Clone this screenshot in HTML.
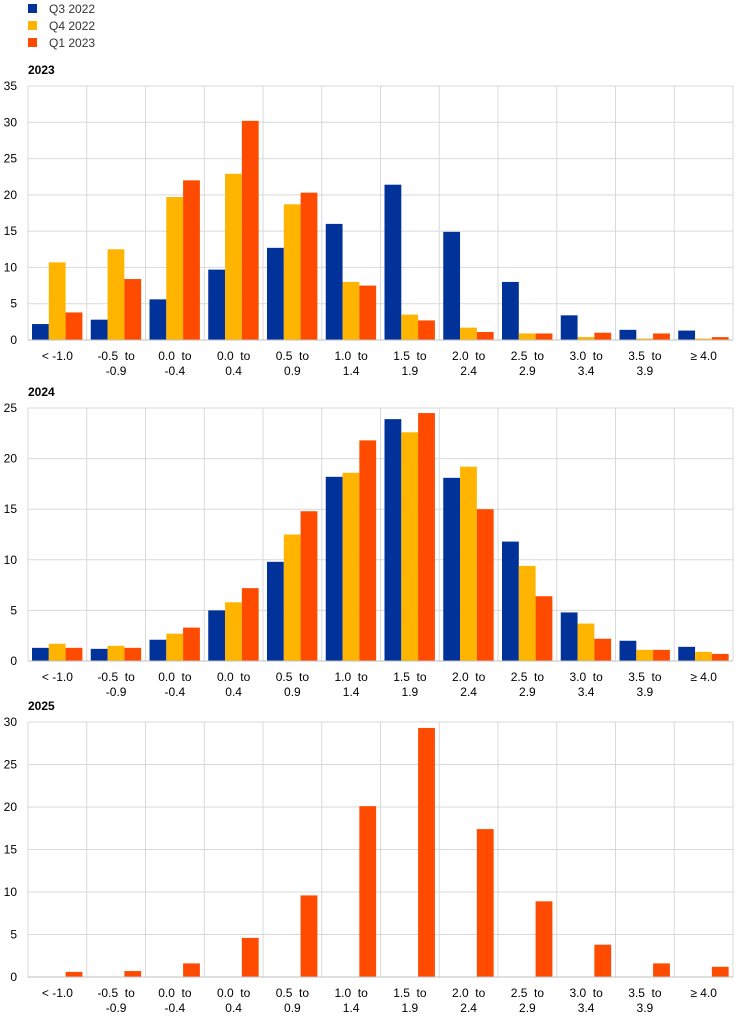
<!DOCTYPE html>
<html><head><meta charset="utf-8"><style>
body{margin:0;background:#fff;width:744px;height:1019px;overflow:hidden;font-family:"Liberation Sans",Arial,sans-serif}
</style></head><body>
<svg id="s" width="744" height="1019" xmlns="http://www.w3.org/2000/svg" font-family="Liberation Sans, Arial, sans-serif"></svg>
<script>
const C=['#003299','#ffb400','#ff4b00'];
let h='';
const leg=['Q3 2022','Q4 2022','Q1 2023'];
leg.forEach((l,i)=>{h+=`<rect x="28" y="${4+i*17}" width="9" height="9" fill="${C[i]}"/><text x="49" y="${13+i*17}" font-size="12" fill="#333">${l}</text>`;});
const cats=[['< -1.0',''],['-0.5  to','-0.9'],['0.0  to','-0.4'],['0.0  to','0.4'],['0.5  to','0.9'],['1.0  to','1.4'],['1.5  to','1.9'],['2.0  to','2.4'],['2.5  to','2.9'],['3.0  to','3.4'],['3.5  to','3.9'],['≥ 4.0','']];
const L=28,R=733,W=(R-L)/12;
function chart(title,top,bot,max,series,cols){
  h+=`<text x="28" y="${top-12}" font-size="12" font-weight="bold" fill="#000">${title}</text>`;
  const sc=(bot-top)/max;
  for(let v=0;v<=max;v+=5){const y=bot-v*sc;
    h+=`<line x1="${L}" x2="${R}" y1="${y}" y2="${y}" stroke="#d9d9d9"/>`;
    h+=`<text x="17" y="${y+4}" font-size="12" text-anchor="end" fill="#000">${v}</text>`;}
  for(let i=0;i<=12;i++){const x=L+i*W;h+=`<line x1="${x}" x2="${x}" y1="${top}" y2="${bot}" stroke="#d9d9d9"/>`;}
  series.forEach((d,si)=>{d.forEach((v,i)=>{const x=L+i*W+4+cols[si]*16.8;
    h+=`<rect x="${x}" y="${bot-v*sc}" width="16.8" height="${v*sc}" fill="${C[cols[si]]}"/>`;});});
  h+=`<line x1="${L}" x2="${R}" y1="${bot}" y2="${bot}" stroke="#bfbfbf"/>`;
  cats.forEach((c,i)=>{const x=L+i*W+W/2;
    h+=`<text x="${x}" y="${bot+20}" font-size="12" text-anchor="middle" xml:space="preserve" fill="#000">${c[0].replace('<','&lt;')}</text>`;
    if(c[1])h+=`<text x="${x}" y="${bot+35}" font-size="12" text-anchor="middle" fill="#000">${c[1]}</text>`;});
}
chart('2023',86,340,35,[[2.2,2.8,5.6,9.7,12.7,16.0,21.4,14.9,8.0,3.4,1.4,1.3],[10.7,12.5,19.7,22.9,18.7,8.0,3.5,1.7,0.9,0.4,0.2,0.2],[3.8,8.4,22.0,30.2,20.3,7.5,2.7,1.1,0.9,1.0,0.9,0.4]],[0,1,2]);
chart('2024',408,661,25,[[1.3,1.2,2.1,5.0,9.8,18.2,23.9,18.1,11.8,4.8,2.0,1.4],[1.7,1.5,2.7,5.8,12.5,18.6,22.6,19.2,9.4,3.7,1.1,0.9],[1.3,1.3,3.3,7.2,14.8,21.8,24.5,15.0,6.4,2.2,1.1,0.7]],[0,1,2]);
chart('2025',722,977,30,[[0.6,0.7,1.6,4.6,9.6,20.1,29.3,17.4,8.9,3.8,1.6,1.2]],[2]);
document.getElementById('s').innerHTML=h;
</script>
</body></html>
